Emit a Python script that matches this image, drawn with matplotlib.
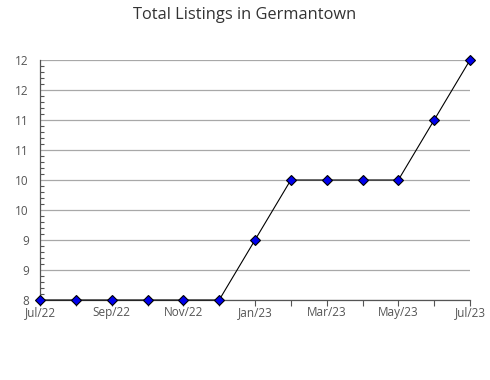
import matplotlib.pyplot as plt
import numpy as np
from matplotlib.ticker import FixedLocator, MultipleLocator, FuncFormatter

plt.rcParams['font.family'] = ['Open Sans', 'DejaVu Sans']

# ---------------------------------------------------------------------------
# Data
# ---------------------------------------------------------------------------
MONTHS = ['Jul/22', 'Aug/22', 'Sep/22', 'Oct/22', 'Nov/22', 'Dec/22',
          'Jan/23', 'Feb/23', 'Mar/23', 'Apr/23', 'May/23', 'Jun/23', 'Jul/23']
LISTINGS = [8, 8, 8, 8, 8, 8, 9, 10, 10, 10, 10, 11, 12]
Y_TICKS = [8, 8.5, 9, 9.5, 10, 10.5, 11, 11.5, 12]

TITLE = 'Total Listings in Germantown'


def _round_half_up(v, pos):
    return f'{int(np.floor(v + 0.5))}'


def main():
    fig = plt.figure(figsize=(4.9, 3.8), dpi=100)
    ax = fig.add_axes([40 / 490, 1 - 300 / 380, 430 / 490, 240 / 380])

    x = np.arange(len(MONTHS))
    ax.plot(x, LISTINGS, color='black', lw=0.8, marker='D', ms=5.0,
            mfc='#0000ee', mec='black', mew=0.8, clip_on=False, zorder=3)

    ax.set_xlim(0, len(MONTHS) - 1)
    ax.set_ylim(Y_TICKS[0], Y_TICKS[-1])

    ax.xaxis.set_major_locator(FixedLocator(x[::2]))
    ax.set_xticklabels(MONTHS[::2])
    ax.xaxis.set_minor_locator(FixedLocator(x))
    ax.yaxis.set_major_locator(FixedLocator(Y_TICKS))
    ax.yaxis.set_major_formatter(FuncFormatter(_round_half_up))
    ax.yaxis.set_minor_locator(MultipleLocator(0.1))

    ax.grid(axis='y', which='major', color='#a8a8a8', lw=0.9)
    ax.set_axisbelow(True)

    for side in ('top', 'right'):
        ax.spines[side].set_visible(False)
    for side in ('left', 'bottom'):
        ax.spines[side].set_color('#555555')
        ax.spines[side].set_linewidth(0.9)

    ax.tick_params(axis='x', which='both', direction='out', length=4,
                   width=0.8, color='#555555', labelsize=8.5,
                   labelcolor='#555555', pad=0.5)
    ax.tick_params(axis='y', which='major', length=0, labelsize=8.5,
                   labelcolor='#555555', pad=8)
    ax.tick_params(axis='y', which='minor', direction='in', length=3,
                   width=0.8, color='#555555')

    fig.text(0.5, 1 - 15 / 380, TITLE, ha='center', va='center',
             fontsize=11.8, color='#333333')

    fig.savefig('out.png', dpi=100)


if __name__ == '__main__':
    main()
